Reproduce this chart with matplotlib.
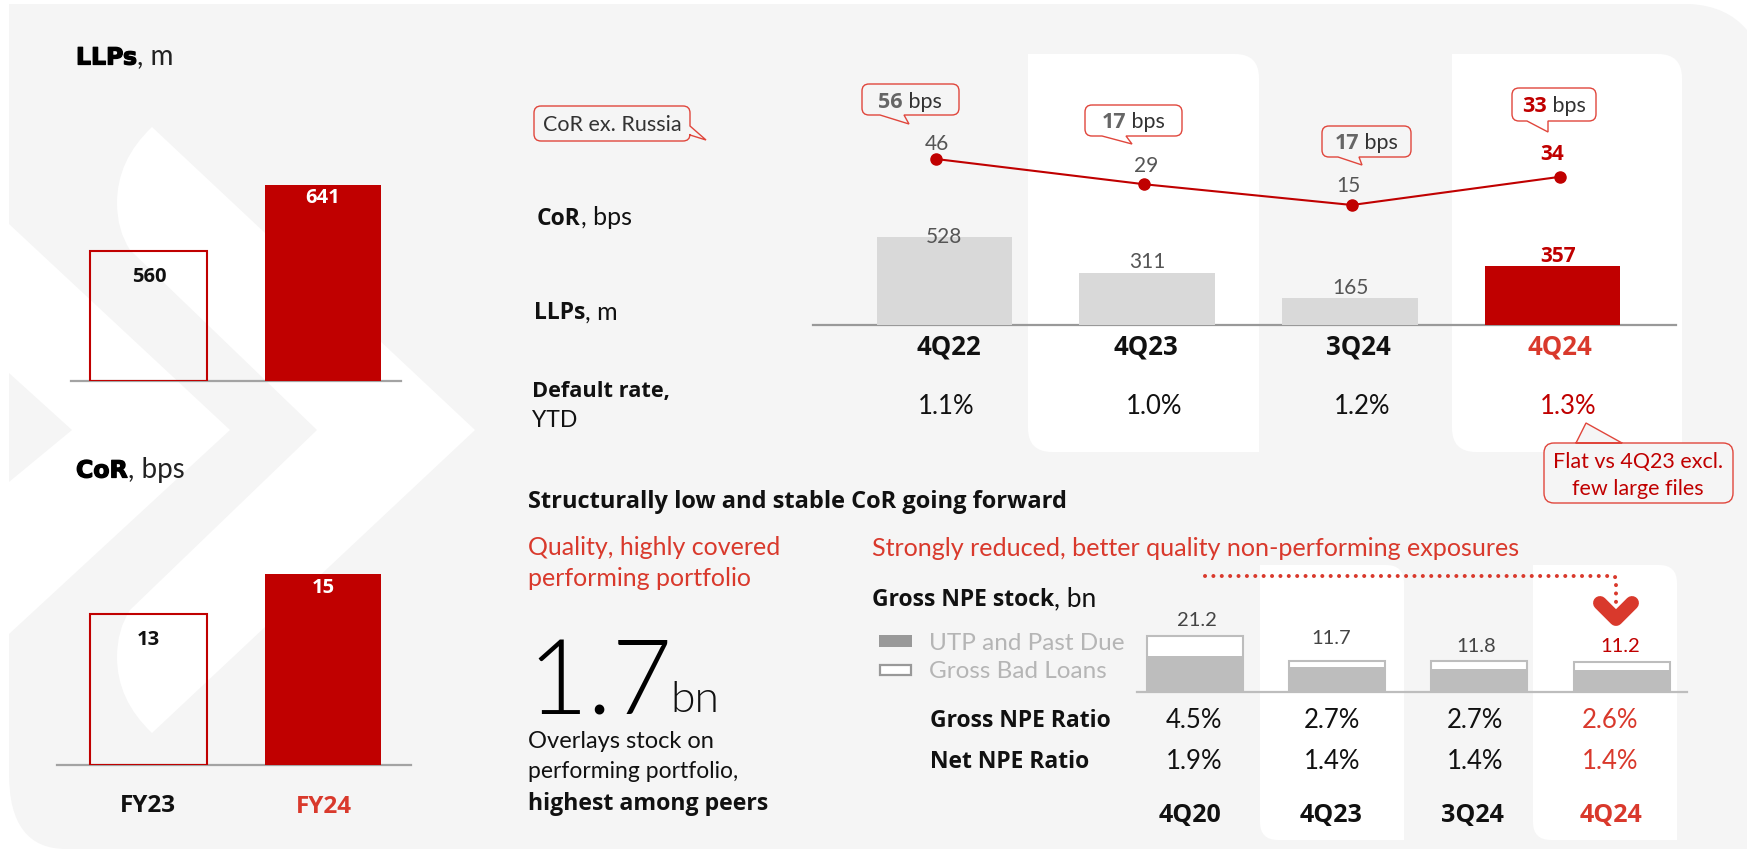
import matplotlib
matplotlib.use("Agg")
import matplotlib.pyplot as plt
from matplotlib.patches import PathPatch, Rectangle
from matplotlib.path import Path
import matplotlib.patheffects as pe

W, H = 1747, 849
RED = "#c00000"
TXT_RED = "#d9392c"
GREY = "#f5f5f5"
FONT = "Lato"
BOLD_FONT = "Open Sans"

# left charts
fy_labels = ["FY23", "FY24"]
fy_llps = [560, 641]
fy_cor = [13, 15]

# main chart
quarters = ["4Q22", "4Q23", "3Q24", "4Q24"]
llps = [528, 311, 165, 357]
cor = [46, 29, 15, 34]
cor_ex_russia = [56, 17, 17, 33]
default_rate = ["1.1%", "1.0%", "1.2%", "1.3%"]

# NPE chart
npe_quarters = ["4Q20", "4Q23", "3Q24", "4Q24"]
npe_total = [21.2, 11.7, 11.8, 11.2]
npe_utp = [13.8, 9.3, 8.9, 8.5]
gross_ratio = ["4.5%", "2.7%", "2.7%", "2.6%"]
net_ratio = ["1.9%", "1.4%", "1.4%", "1.4%"]

fig = plt.figure(figsize=(W / 100, H / 100), dpi=100, facecolor="white")


def full_axes(z):
    ax = fig.add_axes([0, 0, 1, 1], zorder=z)
    ax.set_xlim(0, W)
    ax.set_ylim(H, 0)
    ax.axis("off")
    ax.patch.set_alpha(0)
    return ax


bg = full_axes(0)
top = full_axes(5)


def px_axes(x0, y0, x1, y1):
    # axes placed by pixel box, y0 is the top edge
    ax = fig.add_axes([x0 / W, 1 - y1 / H, (x1 - x0) / W, (y1 - y0) / H], zorder=2)
    ax.patch.set_alpha(0)
    ax.axis("off")
    return ax


def shape(ax, verts, codes, **kw):
    ax.add_patch(PathPatch(Path(verts, codes), **kw))


M, L, C = Path.MOVETO, Path.LINETO, Path.CURVE3


def panel(x0, y0, x1, y1, r, color="white", z=2):
    # top right and bottom left corners are rounded
    shape(bg, [(x0, y0), (x1 - r, y0), (x1, y0), (x1, y0 + r), (x1, y1), (x0 + r, y1), (x0, y1), (x0, y1 - r), (x0, y0)],
          [M, L, C, C, L, L, C, C, L], fc=color, ec="none", zorder=z)


def label(x, y, s, size=16, weight="normal", color="#111111", ha="center", **kw):
    base = y + 0.36 * size * 100 / 72
    family = BOLD_FONT if weight == "bold" else FONT
    return top.text(x, base, s, fontsize=size, fontweight=weight, color=color, ha=ha, va="baseline",
                    family=family, zorder=10, **kw)


def pair(x, y, bold, rest, size=16, color="#111111", rest_color=None, center=False, rest_size=None):
    # bold part followed by a regular part on the same baseline
    r = fig.canvas.get_renderer()
    a = label(x, y, bold, size, "bold", color, ha="left")
    b = label(x, y, rest, size, "normal", rest_color or color, ha="left")
    if rest_size:
        b.set_fontsize(rest_size)
    wa = a.get_window_extent(r).width
    wb = b.get_window_extent(r).width
    left = x - (wa + wb) / 2 if center else x
    a.set_x(left)
    b.set_x(left + wa)


def callout(x0, y0, x1, y1, tail, fc="none", r=7, side="bottom"):
    v = [(x0 + r, y0)]
    c = [M]
    if side == "top":
        v += tail
        c += [L] * len(tail)
    v += [(x1 - r, y0), (x1, y0), (x1, y0 + r)]
    c += [L, C, C]
    if side == "right":
        v += tail
        c += [L] * len(tail)
    v += [(x1, y1 - r), (x1, y1), (x1 - r, y1)]
    c += [L, C, C]
    if side == "bottom":
        v += tail[::-1]
        c += [L] * len(tail)
    v += [(x0 + r, y1), (x0, y1), (x0, y1 - r), (x0, y0 + r), (x0, y0), (x0 + r, y0)]
    c += [L, C, C, L, C, C]
    shape(top, v, c, fc=fc, ec="#e0463c", lw=1.0, zorder=8)


# background panel, big corners differ so it is drawn by hand
shape(bg, [(9, 4), (1690, 4), (1727, 6), (1747, 30), (1747, 849), (66, 849), (9, 849), (9, 774), (9, 4)],
      [M, L, C, C, L, L, C, C, L], fc=GREY, ec="none", zorder=0)

# white chevrons behind the left charts
shape(bg, [(152, 127), (475, 430), (152, 733), (117, 700), (117, 657), (117, 630), (130, 610), (317, 430), (130, 250),
           (117, 230), (117, 203), (117, 160), (152, 127)],
      [M, L, L, C, C, C, C, L, L, C, C, C, C], fc="white", ec="none", zorder=1)
shape(bg, [(9, 224), (230, 430), (9, 634), (9, 482), (72, 430), (9, 373), (9, 224)],
      [M, L, L, L, L, L, L], fc="white", ec="none", zorder=1)

# white column panels
panel(1028, 54, 1259, 452, 24)
panel(1452, 54, 1682, 452, 24)
panel(1260, 565, 1404, 840, 18)
panel(1533, 565, 1677, 840, 18)


def fy_chart(y_top, y_base, x0, x1, values, bottom, top_value):
    ax = px_axes(x0, y_top, x1, y_base)
    ax.set_xlim((x0 - 148.5) / 174.5, (x1 - 148.5) / 174.5)
    ax.set_ylim(bottom, top_value)
    ax.axhline(bottom, color="#a3a3a3", lw=1.6, zorder=1, clip_on=False)
    ax.bar([0], [values[0] - bottom], bottom=bottom, width=0.67, fc="none", ec=RED, lw=1.5, zorder=3)
    ax.bar([1], [values[1] - bottom], bottom=bottom, width=0.67, color=RED, zorder=3)
    return ax


fy_chart(170, 381, 71, 401, fy_llps, 400.5, 659.5)
fy_chart(560, 765, 57, 411, fy_cor, 5.45, 15.7)

heavy = [pe.withStroke(linewidth=0.9, foreground="black")]
for y, bold, rest in [(56, "LLPs", ", m"), (469, "CoR", ", bps")]:
    r = fig.canvas.get_renderer()
    a = top.text(76, y + 8.5, bold, fontsize=17, fontweight="bold", family="DejaVu Sans", color="black",
                 zorder=10, path_effects=heavy)
    w = a.get_window_extent(r).width
    top.text(76 + w, y + 8.5, rest, fontsize=20, family=FONT, color="#222222", zorder=10)

label(149, 275, "560", 14.5, "bold")
label(323, 196, "641", 14.5, "bold", "white")
label(148, 638, "13", 14.5, "bold")
label(323, 586, "15", 14.5, "bold", "white")
label(148, 803, fy_labels[0], 17.5, "bold")
label(324, 804, fy_labels[1], 17.5, "bold", TXT_RED)

# main bars and line
main = px_axes(813, 200, 1676, 325)
main.set_xlim((813 - 944.5) / 202.7, (1676 - 944.5) / 202.7)
main.set_ylim(0, 125 / 0.1665)
main.axhline(0, color="#999999", lw=1.6, zorder=1, clip_on=False)
main.bar(range(4), llps, width=0.668, color=["#d9d9d9", "#d9d9d9", "#d9d9d9", RED], zorder=3)

line = px_axes(936, 150, 1560, 215)
line.set_xlim(0, 3)
line.set_ylim(15 - 10 / 1.484, 46 + 9 / 1.484)
line.plot(range(4), cor, color=RED, lw=1.5, marker="o", ms=8, clip_on=False)

for x, y, v in zip([937, 1146, 1348], [142, 164, 184], cor):
    label(x, y, str(v), 15, color="#555555")
label(1552, 152, str(cor[3]), 15, "bold", RED)
for x, y, v in zip([944, 1147, 1350], [235, 261, 287], llps):
    label(x, y, str(v), 15, color="#555555")
label(1558, 254, str(llps[3]), 15, "bold", RED)

for x, q, c in zip([949, 1146, 1358, 1560], quarters, ["#111111"] * 3 + [TXT_RED]):
    label(x, 345, q, 18.5, "bold", c)
for x, d, c in zip([946, 1154, 1362, 1568], default_rate, ["#111111"] * 3 + [RED]):
    label(x, 405, d, 18.5, color=c)

callout(534, 106, 690, 141, [(690, 126), (706, 140), (690, 135)], side="right")
label(612, 123, "CoR ex. Russia", 15.5, color="#333333")
callout(862, 84, 959, 115, [(880, 115), (909, 124), (904, 115)])
callout(1085, 105, 1182, 136, [(1102, 136), (1132, 144), (1126, 136)])
callout(1322, 126, 1411, 157, [(1338, 157), (1362, 165), (1359, 157)])
callout(1512, 88, 1596, 121, [(1527, 121), (1548, 132), (1548, 121)])
for x, y, v, c in zip([910, 1133, 1366, 1554], [100, 120, 141, 104], cor_ex_russia,
                      ["#666666", "#666666", "#666666", RED]):
    pair(x, y, str(v), " bps", 15.5, c, "#333333", center=True)

callout(1544, 443, 1733, 503, [(1622, 443), (1586, 423), (1576, 443)], fc=GREY, r=10, side="top")
label(1638, 460, "Flat vs 4Q23 excl.", 15.5, color=RED)
label(1638, 487, "few large files", 15.5, color=RED)

pair(537, 217, "CoR", ", bps", 16.5, rest_size=18)
pair(534, 311, "LLPs", ", m", 16.5, rest_size=18)
label(532, 389, "Default rate,", 15.7, "bold", ha="left")
label(532, 419, "YTD", 16.5, ha="left")

# lower left text
label(528, 500, "Structurally low and stable CoR going forward", 17, "bold", ha="left")
label(528, 546, "Quality, highly covered", 18, color=TXT_RED, ha="left")
label(528, 577, "performing portfolio", 18, color=TXT_RED, ha="left")
label(872, 547, "Strongly reduced, better quality non-performing exposures", 18.1, color=TXT_RED, ha="left")
big = label(527, 677, "1.7", 75, "normal", "black", ha="left")
big.set_fontweight(300)
bn = label(670, 696, "bn", 32, "normal", "#111111", ha="left")
bn.set_fontweight(300)
label(528, 739, "Overlays stock on", 17, ha="left")
label(528, 770, "performing portfolio,", 16.5, ha="left")
label(528, 802, "highest among peers", 16.7, "bold", ha="left")

# NPE bars
npe = px_axes(1137, 620, 1687, 692)
npe.set_xlim((1137 - 1195) / 142.2, (1687 - 1195) / 142.2)
npe.set_ylim(0, 72 / 2.64)
npe.axhline(0, color="#bdbdbd", lw=1.6, zorder=1, clip_on=False)
npe.bar(range(4), npe_total, width=0.675, fc="white", ec="#bdbdbd", lw=1.5, zorder=3)
npe.bar(range(4), npe_utp, width=0.675, color="#bdbdbd", zorder=4)

pair(872, 598, "Gross NPE stock", ", bn", 16.5, rest_size=19)
bg.add_patch(Rectangle((879, 635), 33, 12, fc="#999999", ec="none", zorder=5))
bg.add_patch(Rectangle((880, 665), 31, 10, fc="white", ec="#999999", lw=1.6, zorder=5))
label(929, 641, "UTP and Past Due", 17.5, color="#b5b5b5", ha="left")
label(929, 669, "Gross Bad Loans", 17.5, color="#b5b5b5", ha="left")

for x, y, v, c in zip([1197, 1331, 1476, 1620], [619, 637, 645, 645], npe_total, ["#444444"] * 3 + [RED]):
    label(x, y, str(v), 14.5, color=c)
for y, row in [(719, gross_ratio), (760, net_ratio)]:
    for x, v, c in zip([1194, 1332, 1475, 1610], row, ["#111111"] * 3 + [TXT_RED]):
        label(x, y, v, 18.5, color=c)
label(930, 719, "Gross NPE Ratio", 16.5, "bold", ha="left")
label(930, 760, "Net NPE Ratio", 16.5, "bold", ha="left")
for x, q, c in zip([1190, 1331, 1472, 1611], npe_quarters, ["#111111"] * 3 + [TXT_RED]):
    label(x, 813, q, 18, "bold", c)

# dotted arrow and red chevron
top.plot([1600, 1616, 1632], [603, 619, 603], color=TXT_RED, lw=10, solid_capstyle="round",
         solid_joinstyle="round", zorder=7)
top.plot([1205, 1614, 1616, 1616], [576, 576, 578, 606], color=TXT_RED, lw=2.9,
         ls=(0, (0.01, 2.07)), dash_capstyle="round", zorder=8)

fig.savefig("out.png", dpi=100, facecolor="white")
